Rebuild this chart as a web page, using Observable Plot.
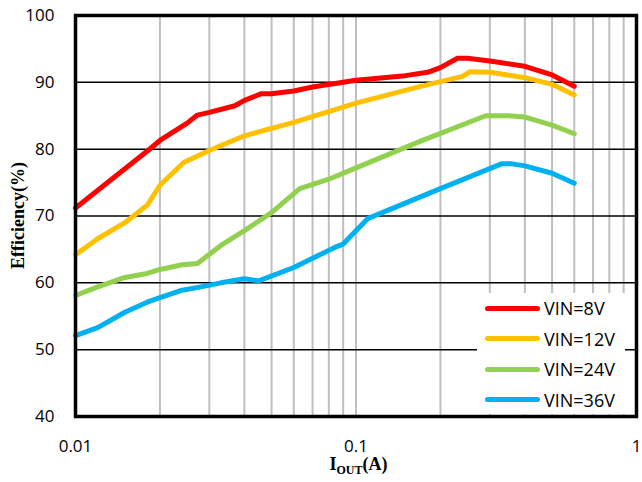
<!DOCTYPE html>
<html>
<head>
<meta charset="utf-8">
<script src="https://cdn.jsdelivr.net/npm/d3@7"></script>
<script src="https://cdn.jsdelivr.net/npm/@observablehq/plot@0.6"></script>
<style>
  html, body { margin: 0; padding: 0; background: #fff; }
  #wrap { position: relative; width: 642px; height: 482px; }
  #legend { position: absolute; background: #fff; font-family: "Open Sans", sans-serif; font-size: 18px; color: #000; }
  #legend .row { display: flex; align-items: center; height: 30.5px; }
  #legend .sw { width: 55px; height: 5px; border-radius: 3px; margin-right: 4px; }
</style>
</head>
<body>
<div id="wrap"></div>
<script>
const seriesNames = ["VIN=8V", "VIN=12V", "VIN=24V", "VIN=36V"];
const seriesColors = ["#FF0000", "#FFC000", "#92D050", "#00B0F0"];

const vin8 = [[0.01,71.2],[0.0185,80.1],[0.02,81.3],[0.025,83.9],[0.0272,85.1],[0.03,85.5],[0.037,86.5],[0.04,87.3],[0.046,88.3],[0.05,88.3],[0.06,88.7],[0.07,89.3],[0.09,90.0],[0.1,90.3],[0.15,91.0],[0.18,91.5],[0.2,92.2],[0.23,93.6],[0.25,93.6],[0.3,93.2],[0.4,92.4],[0.5,91.1],[0.6,89.4]];
const vin12 = [[0.01,64.2],[0.012,66.6],[0.015,69.0],[0.018,71.6],[0.02,74.6],[0.0243,78.0],[0.03,79.8],[0.04,82.0],[0.06,84.0],[0.1,86.9],[0.17,89.4],[0.24,90.9],[0.255,91.6],[0.3,91.5],[0.4,90.7],[0.5,89.7],[0.6,88.1]];
const vin24 = [[0.01,58.1],[0.012,59.4],[0.015,60.8],[0.018,61.4],[0.02,62.0],[0.024,62.7],[0.0272,62.9],[0.033,65.6],[0.04,67.8],[0.05,70.5],[0.063,74.1],[0.08,75.5],[0.1,77.2],[0.17,81.2],[0.29,85.0],[0.35,85.0],[0.4,84.8],[0.5,83.6],[0.6,82.3]];
const vin36 = [[0.01,52.1],[0.012,53.3],[0.015,55.6],[0.018,57.1],[0.02,57.8],[0.024,58.9],[0.028,59.4],[0.033,60.0],[0.04,60.6],[0.045,60.3],[0.06,62.3],[0.084,65.3],[0.09,65.8],[0.11,69.6],[0.2,74.1],[0.33,77.8],[0.36,77.8],[0.4,77.5],[0.5,76.4],[0.6,74.9]];

const xTicks = [0.01, 0.1, 1];
const xTickLabels = ["0.01", "0.1", "1"];
const yTicks = [40, 50, 60, 70, 80, 90, 100];
const xMinorGrid = [0.02,0.03,0.04,0.05,0.06,0.07,0.08,0.09,0.1,0.2,0.3,0.4,0.5,0.6,0.7,0.8,0.9];
const yGrid = [50, 60, 70, 80, 90];

const allSeries = [vin8, vin12, vin24, vin36];
const data = allSeries.flatMap((s, i) => s.map(([x, y]) => ({x, y, series: seriesNames[i]})));

const chart = Plot.plot({
  width: 642,
  height: 482,
  marginLeft: 75,
  marginTop: 15,
  marginRight: 6,
  marginBottom: 66,
  style: {fontFamily: "'Open Sans', sans-serif", fontSize: "17px", color: "#000", background: "#fff"},
  x: {type: "log", domain: [0.01, 1]},
  y: {domain: [40, 100]},
  color: {domain: seriesNames, range: seriesColors},
  marks: [
    Plot.ruleX(xMinorGrid, {stroke: "#bfbfbf", strokeWidth: 2}),
    Plot.ruleY(yGrid, {stroke: "#000", strokeWidth: 1.5}),
    Plot.line(data, {x: "x", y: "y", z: "series", stroke: "series", strokeWidth: 5, strokeLinejoin: "round", strokeLinecap: "round"}),
    Plot.frame({stroke: "#000", strokeWidth: 3.5}),
    Plot.axisX({ticks: xTicks, tickSize: 0, tickPadding: 23, tickFormat: d => xTickLabels[xTicks.indexOf(d)] ?? String(d), label: null, fontSize: 17}),
    Plot.axisY(yTicks, {tickSize: 0, tickPadding: 21, label: null, fontSize: 17})
  ]
});

const wrap = document.getElementById("wrap");
wrap.appendChild(chart);

const sx = chart.scale("x"), sy = chart.scale("y");
const svg = d3.select(chart);
// y axis title
const yMid = (sy.apply(40) + sy.apply(100)) / 2;
svg.append("text")
  .attr("transform", `translate(24,${yMid}) rotate(-90)`)
  .attr("text-anchor", "middle")
  .attr("font-family", "'Liberation Serif', serif")
  .attr("font-weight", "bold")
  .attr("font-size", 18)
  .attr("fill", "#000")
  .text("Efficiency(%)");
// x axis title with subscript
const xMid = sx.apply(0.1) + 3;
const xt = svg.append("text")
  .attr("x", xMid).attr("y", 470)
  .attr("text-anchor", "middle")
  .attr("font-family", "'Liberation Serif', serif")
  .attr("font-weight", "bold")
  .attr("font-size", 18)
  .attr("fill", "#000");
xt.append("tspan").text("I");
xt.append("tspan").attr("font-size", 12).attr("dy", 4).text("OUT");
xt.append("tspan").attr("dy", -4).text("(A)");

// legend
const lg = document.createElement("div");
lg.id = "legend";
lg.style.left = "477px";
lg.style.top = "293px";
lg.style.width = "148px";
lg.style.height = "121px";
lg.style.paddingLeft = "8px";
lg.style.boxSizing = "border-box";
seriesNames.forEach((n, i) => {
  const row = document.createElement("div");
  row.className = "row";
  const sw = document.createElement("div");
  sw.className = "sw";
  sw.style.background = seriesColors[i];
  const t = document.createElement("span");
  t.textContent = n;
  row.appendChild(sw); row.appendChild(t);
  lg.appendChild(row);
});
wrap.appendChild(lg);
</script>
</body>
</html>
